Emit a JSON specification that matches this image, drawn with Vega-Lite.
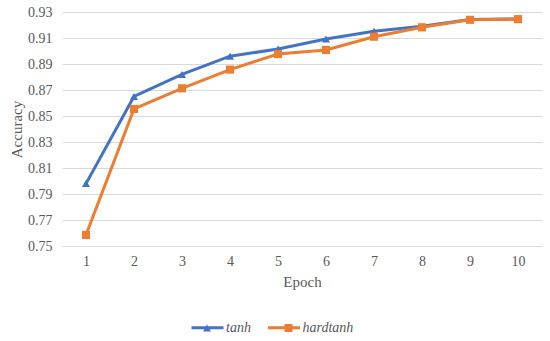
{
  "$schema": "https://vega.github.io/schema/vega-lite/v6.json",
  "width": 480,
  "height": 234,
  "autosize": {"type": "none"},
  "padding": {"left": 62, "top": 12, "right": 8, "bottom": 95},
  "config": {"view": {"stroke": null}, "font": "Liberation Serif"},
  "data": {
    "values": [
      {"epoch": 1, "model": "tanh", "acc": 0.798},
      {"epoch": 2, "model": "tanh", "acc": 0.865},
      {"epoch": 3, "model": "tanh", "acc": 0.882},
      {"epoch": 4, "model": "tanh", "acc": 0.896},
      {"epoch": 5, "model": "tanh", "acc": 0.9015},
      {"epoch": 6, "model": "tanh", "acc": 0.9092},
      {"epoch": 7, "model": "tanh", "acc": 0.9152},
      {"epoch": 8, "model": "tanh", "acc": 0.919},
      {"epoch": 9, "model": "tanh", "acc": 0.9243},
      {"epoch": 10, "model": "tanh", "acc": 0.9246},
      {"epoch": 1, "model": "hardtanh", "acc": 0.7585},
      {"epoch": 2, "model": "hardtanh", "acc": 0.8554},
      {"epoch": 3, "model": "hardtanh", "acc": 0.8713},
      {"epoch": 4, "model": "hardtanh", "acc": 0.8857},
      {"epoch": 5, "model": "hardtanh", "acc": 0.8977},
      {"epoch": 6, "model": "hardtanh", "acc": 0.9008},
      {"epoch": 7, "model": "hardtanh", "acc": 0.911},
      {"epoch": 8, "model": "hardtanh", "acc": 0.9182},
      {"epoch": 9, "model": "hardtanh", "acc": 0.924},
      {"epoch": 10, "model": "hardtanh", "acc": 0.9245}
    ]
  },
  "encoding": {
    "x": {
      "field": "epoch",
      "type": "ordinal",
      "scale": {"type": "point", "padding": 0.5},
      "axis": {
        "title": "Epoch",
        "labelAngle": 0,
        "ticks": false,
        "grid": false,
        "domainColor": "#d9d9d9",
        "domainWidth": 1,
        "labelPadding": 8,
        "labelFontSize": 14,
        "labelColor": "#595959",
        "titleFontSize": 15,
        "titleFontWeight": "normal",
        "titleColor": "#595959",
        "titlePadding": 6
      }
    },
    "y": {
      "field": "acc",
      "type": "quantitative",
      "scale": {"domain": [0.75, 0.93], "nice": false, "zero": false},
      "axis": {
        "title": "Accuracy",
        "values": [0.75, 0.77, 0.79, 0.81, 0.83, 0.85, 0.87, 0.89, 0.91, 0.93],
        "format": ".2f",
        "ticks": false,
        "domain": false,
        "gridColor": "#d9d9d9",
        "gridWidth": 1,
        "labelPadding": 10,
        "labelFontSize": 14,
        "labelColor": "#595959",
        "titleFontSize": 15,
        "titleFontWeight": "normal",
        "titleColor": "#595959",
        "titlePadding": 3
      }
    }
  },
  "layer": [
    {
      "mark": {"type": "line", "strokeWidth": 3},
      "encoding": {
        "stroke": {
          "field": "model",
          "type": "nominal",
          "sort": "descending",
          "scale": {"range": ["#4472C4", "#ED7D31"]},
          "legend": {
            "title": null,
            "orient": "none",
            "legendX": 128,
            "legendY": 298,
            "direction": "horizontal",
            "symbolType": "stroke",
            "symbolSize": 1024,
            "symbolStrokeWidth": 3,
            "labelFontSize": 14,
            "labelFontStyle": "italic",
            "labelColor": "#595959",
            "labelOffset": 1,
            "columnPadding": 10.5
          }
        }
      }
    },
    {
      "mark": {"type": "point", "filled": true, "opacity": 1, "size": 66},
      "encoding": {
        "color": {
          "field": "model",
          "type": "nominal",
          "scale": {"domain": ["tanh", "hardtanh"], "range": ["#4472C4", "#ED7D31"]},
          "legend": {
            "title": null,
            "orient": "none",
            "legendX": 138,
            "legendY": 309,
            "direction": "horizontal",
            "symbolSize": 64,
            "symbolStrokeWidth": 0,
            "symbolOpacity": 1,
            "labelExpr": "''",
            "labelFontSize": 14,
            "labelOffset": 1,
            "columnPadding": 66.5
          }
        },
        "shape": {
          "field": "model",
          "type": "nominal",
          "scale": {"domain": ["tanh", "hardtanh"], "range": ["triangle-up", "square"]},
          "legend": {
            "title": null,
            "orient": "none",
            "legendX": 138,
            "legendY": 309,
            "direction": "horizontal",
            "symbolSize": 64,
            "symbolStrokeWidth": 0,
            "symbolOpacity": 1,
            "labelExpr": "''",
            "labelFontSize": 14,
            "labelOffset": 1,
            "columnPadding": 66.5
          }
        }
      }
    }
  ]
}
